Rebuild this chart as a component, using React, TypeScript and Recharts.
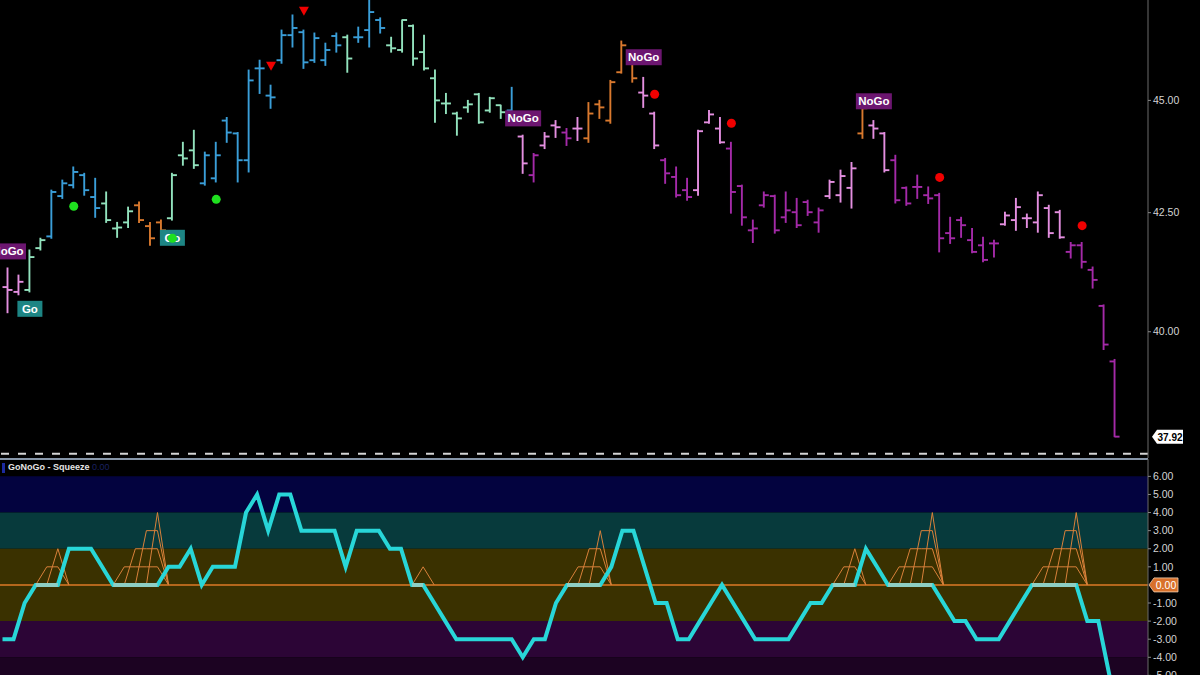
import React from "react";
import { Bar, ComposedChart, Line, ReferenceArea, ReferenceLine, XAxis, YAxis } from "recharts";

// one entry per daily bar, left to right
const OPEN = [
  40.92, 40.82, 40.86, 41.74, 41.99, 42.86, 43.1, 43.32, 42.84, 42.7,
  42.16, 42.29, 42.66, 42.21, 42.29, 42.38, 43.76, 43.87, 43.14, 43.25,
  44.54, 44.25, 43.65, 45.74, 45.11, 45.93, 46.52, 46.59, 45.93, 45.93,
  46.5, 46.47, 46.47, 46.64, 46.88, 46.28, 46.17, 46.74, 46.12, 45.51,
  44.93, 44.7, 44.84, 45.14, 44.77, 44.89, 44.77, 44.18, 43.32, 43.98,
  44.43, 44.27, 44.36, 44.14, 44.91, 44.54, 45.65, 45.88, 45.18, 44.7,
  43.65, 43.28, 42.99, 42.99, 44.5, 44.36, 43.91, 43.08, 42.12, 42.66,
  42.86, 42.4, 42.51, 42.73, 42.29, 42.86, 42.88, 43.04, 44.25, 44.43,
  44.25, 43.65, 43.04, 43.06, 42.88, 42.88, 42.06, 42.34, 41.91, 41.8,
  41.84, 42.25, 42.34, 42.38, 42.29, 42.6, 42.51, 41.66, 41.8, 41.28,
  40.53, 39.4,
];
const HIGH = [
  41.32, 41.17, 41.7, 41.95, 42.99, 43.21, 43.5, 43.36, 43.25, 42.95,
  42.29, 42.62, 42.73, 42.29, 42.34, 43.36, 44.05, 44.32, 43.83, 44.05,
  44.61, 44.27, 45.7, 45.93, 45.35, 46.64, 47.0, 46.64, 46.57, 46.33,
  46.57, 46.52, 46.71, 47.36, 46.93, 46.47, 46.88, 46.76, 46.52, 45.7,
  45.16, 44.73, 45.0, 45.16, 45.07, 44.89, 45.3, 44.21, 43.8, 44.27,
  44.54, 44.36, 44.61, 44.95, 45.0, 45.46, 46.38, 45.97, 45.53, 44.73,
  43.69, 43.5, 43.25, 44.32, 44.77, 44.61, 44.05, 43.1, 42.34, 42.95,
  42.88, 42.95, 42.81, 42.77, 42.6, 43.21, 43.43, 43.6, 44.89, 44.54,
  44.27, 43.76, 43.06, 43.32, 43.06, 42.92, 42.4, 42.4, 42.16, 41.97,
  41.91, 42.51, 42.81, 42.47, 42.95, 42.66, 42.55, 41.86, 41.86, 41.34,
  40.55, 39.44,
];
const LOW = [
  40.39, 40.76, 40.82, 41.7, 41.95, 42.81, 43.04, 42.88, 42.4, 42.29,
  41.97, 42.18, 42.29, 41.8, 41.91, 42.34, 43.54, 43.47, 43.1, 43.17,
  44.05, 43.17, 43.39, 45.16, 44.82, 45.86, 46.24, 45.74, 45.88, 45.81,
  46.12, 45.65, 46.35, 46.24, 46.57, 46.12, 46.12, 45.81, 45.7, 44.5,
  44.7, 44.21, 44.73, 44.48, 44.73, 44.59, 44.43, 43.36, 43.17, 43.91,
  44.16, 43.98, 44.09, 44.05, 44.59, 44.48, 45.63, 45.42, 44.84, 43.91,
  43.14, 42.84, 42.77, 42.88, 44.48, 44.03, 42.49, 42.23, 41.86, 42.62,
  42.06, 42.29, 42.18, 42.44, 42.08, 42.81, 42.73, 42.6, 44.14, 44.14,
  43.39, 42.71, 42.66, 42.81, 42.7, 41.66, 41.84, 41.97, 41.64, 41.45,
  41.55, 42.23, 42.12, 42.18, 42.08, 41.97, 41.95, 41.53, 41.32, 40.9,
  39.64, 37.92,
];
const CLOSE = [
  40.86, 41.03, 41.55, 41.91, 42.95, 43.14, 43.39, 42.99, 42.6, 42.34,
  42.18, 42.53, 42.34, 41.95, 42.12, 43.32, 43.69, 43.54, 43.76, 43.76,
  44.27, 43.65, 45.46, 45.74, 45.07, 46.52, 46.69, 45.88, 46.45, 46.17,
  46.28, 45.97, 46.47, 47.07, 46.69, 46.21, 46.88, 45.97, 45.74, 45.0,
  44.93, 44.59, 44.91, 44.5, 45.05, 44.73, 44.48, 43.58, 43.76, 44.18,
  44.39, 44.14, 44.36, 44.7, 44.84, 45.42, 46.28, 45.51, 45.11, 43.98,
  43.36, 42.88, 42.84, 44.3, 44.68, 44.05, 42.95, 42.4, 42.16, 42.88,
  42.12, 42.55, 42.23, 42.51, 42.55, 43.17, 43.3, 43.47, 44.82, 44.36,
  43.43, 42.77, 42.7, 43.06, 42.81, 41.95, 41.95, 42.23, 41.66, 41.49,
  41.84, 42.44, 42.62, 42.38, 42.88, 42.06, 41.97, 41.8, 41.45, 41.07,
  39.74, 37.92,
];
// G strong go, g weak go, a amber, n weak nogo, N strong nogo
const TREND = [
  "n", "n", "g", "g", "G", "G", "G", "G", "G", "g",
  "g", "g", "a", "a", "a", "g", "g", "g", "G", "G",
  "G", "G", "G", "G", "G", "G", "G", "G", "G", "G",
  "G", "g", "G", "G", "G", "g", "g", "g", "g", "g",
  "g", "g", "g", "g", "g", "g", "G", "n", "N", "n",
  "n", "N", "n", "a", "a", "a", "a", "a", "n", "n",
  "N", "N", "N", "n", "n", "n", "N", "N", "N", "N",
  "N", "N", "N", "N", "N", "n", "n", "n", "a", "n",
  "n", "N", "N", "N", "N", "N", "N", "N", "N", "N",
  "N", "n", "n", "n", "n", "n", "n", "N", "N", "N",
  "N", "N",
];
const OSC = [
  -3, -3, -1, 0, 0, 0, 2, 2, 2, 1,
  0, 0, 0, 0, 0, 1, 1, 2, 0, 1,
  1, 1, 4, 5, 3, 5, 5, 3, 3, 3,
  3, 1, 3, 3, 3, 2, 2, 0, 0, -1,
  -2, -3, -3, -3, -3, -3, -3, -4, -3, -3,
  -1, 0, 0, 0, 0, 1, 3, 3, 1, -1,
  -1, -3, -3, -2, -1, 0, -1, -2, -3, -3,
  -3, -3, -2, -1, -1, 0, 0, 0, 2, 1,
  0, 0, 0, 0, 0, -1, -2, -2, -3, -3,
  -3, -2, -1, 0, 0, 0, 0, 0, -2, -2,
  -5, -6,
];
const SQUEEZE = [
  0, 0, 0, 0, 1, 2, 0, 0, 0, 0,
  0, 1, 2, 3, 4, 0, 0, 0, 0, 0,
  0, 0, 0, 0, 0, 0, 0, 0, 0, 0,
  0, 0, 0, 0, 0, 0, 0, 0, 1, 0,
  0, 0, 0, 0, 0, 0, 0, 0, 0, 0,
  0, 0, 1, 2, 3, 0, 0, 0, 0, 0,
  0, 0, 0, 0, 0, 0, 0, 0, 0, 0,
  0, 0, 0, 0, 0, 0, 1, 2, 0, 0,
  0, 1, 2, 3, 4, 0, 0, 0, 0, 0,
  0, 0, 0, 0, 1, 2, 3, 4, 0, 0,
  0, 0,
];

const GO_DOTS = [
  { bar: 6, price: 42.64 },
  { bar: 15, price: 41.95 },
  { bar: 19, price: 42.79 },
];
const NOGO_DOTS = [
  { bar: 59, price: 45.14 },
  { bar: 66, price: 44.48 },
  { bar: 85, price: 43.27 },
  { bar: 98, price: 42.22 },
];
const NOGO_TRIANGLES = [
  { bar: 24, price: 45.79 },
  { bar: 27, price: 47.09 },
];
const SIGNAL_LABELS = [
  { bar: 0, price: 41.67, text: "NoGo" },
  { bar: 2, price: 40.47, text: "Go" },
  { bar: 15, price: 41.96, text: "Go" },
  { bar: 47, price: 44.59, text: "NoGo" },
  { bar: 58, price: 46.0, text: "NoGo" },
  { bar: 79, price: 44.98, text: "NoGo" },
];

const LAST_PRICE = 37.92;
const DASH_LEVEL = 37.59;
const PRICE_TICKS = [40, 42.5, 45];
// 0 is shown by the orange tag instead of a plain tick label
const OSC_TICKS = [-5, -4, -3, -2, -1, 1, 2, 3, 4, 5, 6];
const OSC_DOMAIN = [-5.2, 6.96];
const OSC_BANDS = [
  { from: 4, to: 6, color: "#03033f" },
  { from: 2, to: 4, color: "#073a3c" },
  { from: -2, to: 2, color: "#3a3100" },
  { from: -4, to: -2, color: "#2c0536" },
  { from: -6, to: -4, color: "#1c0322" },
];

const TREND_COLORS: Record<string, string> = {
  G: "#3a9ed8",
  g: "#92e2bd",
  a: "#d9792e",
  n: "#e48fe0",
  N: "#a42aa8",
};

const FONT = "'Liberation Sans', Arial, sans-serif";
const AXIS_TICK = { fill: "#d4d4d4", fontSize: 10.5, fontFamily: FONT };

const priceRows = OPEN.map((o, i) => {
  const go = GO_DOTS.find((d) => d.bar === i);
  const red = NOGO_DOTS.find((d) => d.bar === i);
  const tri = NOGO_TRIANGLES.find((d) => d.bar === i);
  const lab = SIGNAL_LABELS.find((d) => d.bar === i);
  return {
    i,
    range: [LOW[i], HIGH[i]],
    open: o,
    high: HIGH[i],
    low: LOW[i],
    close: CLOSE[i],
    trend: TREND[i],
    goDot: go ? go.price : null,
    redDot: red ? red.price : null,
    tri: tri ? tri.price : null,
    label: lab ? lab.price : null,
    labelText: lab ? lab.text : "",
  };
});

// squeeze grid: one trapezoid per level
const levelValue = (i: number, L: number) => {
  if (SQUEEZE[i] >= L) return L;
  if ((SQUEEZE[i - 1] ?? 0) >= L || (SQUEEZE[i + 1] ?? 0) >= L) return 0;
  return null;
};
const oscRows = OSC.map((v, i) => ({
  i,
  osc: v,
  flat: v === 0 && (OSC[i - 1] === 0 || OSC[i + 1] === 0) ? 0 : null,
  sq1: levelValue(i, 1),
  sq2: levelValue(i, 2),
  sq3: levelValue(i, 3),
  sq4: levelValue(i, 4),
}));

function OhlcShape(props: any) {
  const { x, y, width, height, payload } = props;
  if (x == null || y == null || height == null) return <g />;
  const top = Math.min(y, y + height);
  const bot = Math.max(y, y + height);
  const cx = x + width / 2;
  const lh = Math.log(payload.high);
  const span = lh - Math.log(payload.low) || 1;
  const yOf = (v: number) => top + ((lh - Math.log(v)) / span) * (bot - top);
  const yo = yOf(payload.open);
  const yc = yOf(payload.close);
  return (
    <g stroke={TREND_COLORS[payload.trend]} strokeWidth={1.9}>
      <line x1={cx} x2={cx} y1={top - 0.5} y2={bot + 0.5} />
      <line x1={cx - 5} x2={cx} y1={yo} y2={yo} />
      <line x1={cx} x2={cx + 5} y1={yc} y2={yc} />
    </g>
  );
}

const empty = (p: any) => <g key={"e" + p.index} />;

const greenDot = (p: any) =>
  p.value == null || p.cy == null ? empty(p) : (
    <circle key={"g" + p.index} cx={p.cx} cy={p.cy} r={4.5} fill="#1fe01f" />
  );
const redDot = (p: any) =>
  p.value == null || p.cy == null ? empty(p) : (
    <circle key={"r" + p.index} cx={p.cx} cy={p.cy} r={4.5} fill="#f00000" />
  );
const redTriangle = (p: any) =>
  p.value == null || p.cy == null ? empty(p) : (
    <polygon
      key={"t" + p.index}
      points={`${p.cx - 5},${p.cy - 4.5} ${p.cx + 5},${p.cy - 4.5} ${p.cx},${p.cy + 4.5}`}
      fill="#f00000"
    />
  );
const signalBox = (p: any) => {
  if (p.value == null || p.cy == null) return empty(p);
  const text = p.payload.labelText;
  const isGo = text === "Go";
  const w = isGo ? 25 : 36;
  return (
    <g key={"l" + p.index}>
      <rect x={p.cx - w / 2} y={p.cy - 8} width={w} height={16} fill={isGo ? "#1d8584" : "#6c1670"} />
      <text
        x={p.cx}
        y={p.cy + 4}
        textAnchor="middle"
        fill="#ffffff"
        fontSize={11.5}
        fontWeight="bold"
        fontFamily={FONT}
      >
        {text}
      </text>
    </g>
  );
};

function PriceTag(props: any) {
  const vb = props.viewBox || {};
  const x0 = vb.x + vb.width + 4;
  const y = vb.y;
  return (
    <g>
      <polygon
        points={`${x0},${y} ${x0 + 5},${y - 7} ${x0 + 31},${y - 7} ${x0 + 31},${y + 7} ${x0 + 5},${y + 7}`}
        fill="#ffffff"
      />
      <text x={x0 + 18} y={y + 4} textAnchor="middle" fontSize={10} fontWeight="bold" fill="#000" fontFamily={FONT}>
        {LAST_PRICE.toFixed(2)}
      </text>
    </g>
  );
}

function ZeroTag(props: any) {
  const vb = props.viewBox || {};
  const x0 = vb.x + vb.width + 1;
  const y = vb.y;
  return (
    <g>
      <polygon
        points={`${x0},${y} ${x0 + 5},${y - 7} ${x0 + 29},${y - 7} ${x0 + 29},${y + 7} ${x0 + 5},${y + 7}`}
        fill="#d8702a"
        stroke="#f4d2b4"
        strokeWidth={0.8}
      />
      <text x={x0 + 17} y={y + 4} textAnchor="middle" fontSize={10.5} fill="#fff" fontFamily={FONT}>
        0.00
      </text>
    </g>
  );
}

const X_PAD = { left: 2.5, right: 27.5 };
const NO_MARGIN = { top: 0, right: 0, bottom: 0, left: 0 };

export default function App() {
  return (
    <div
      style={{
        position: "fixed",
        left: 0,
        top: 0,
        width: 1200,
        height: 675,
        background: "#000",
        overflow: "hidden",
        fontFamily: FONT,
      }}
    >
      <div style={{ position: "absolute", left: 0, top: 0 }}>
        <ComposedChart width={1200} height={458} data={priceRows} margin={NO_MARGIN}>
          <XAxis dataKey="i" hide padding={X_PAD} />
          <YAxis
            orientation="right"
            width={52}
            scale="log"
            domain={[37.51, 47.36]}
            allowDataOverflow
            ticks={PRICE_TICKS}
            interval={0}
            tickFormatter={(v: number) => v.toFixed(2)}
            tick={AXIS_TICK}
            tickSize={3}
            tickMargin={2}
            axisLine={{ stroke: "#6a6a6a" }}
            tickLine={{ stroke: "#888" }}
          />
          <ReferenceLine y={DASH_LEVEL} stroke="#d4d4d4" strokeWidth={2} strokeDasharray="8 9" />
          <ReferenceLine y={LAST_PRICE} stroke="none" label={<PriceTag />} />
          <Line dataKey="label" stroke="none" dot={signalBox} activeDot={false} isAnimationActive={false} />
          <Bar dataKey="range" barSize={8} shape={<OhlcShape />} isAnimationActive={false} />
          <Line dataKey="goDot" stroke="none" dot={greenDot} activeDot={false} isAnimationActive={false} />
          <Line dataKey="redDot" stroke="none" dot={redDot} activeDot={false} isAnimationActive={false} />
          <Line dataKey="tri" stroke="none" dot={redTriangle} activeDot={false} isAnimationActive={false} />
        </ComposedChart>
      </div>

      <div style={{ position: "absolute", left: 0, top: 458, width: 1148, height: 1.5, background: "#8695a8" }} />

      {/* oscillator zones, full plot width (no category padding) */}
      <div style={{ position: "absolute", left: 0, top: 459 }}>
        <ComposedChart width={1200} height={220} data={oscRows} margin={NO_MARGIN}>
          <XAxis dataKey="i" hide />
          <YAxis orientation="right" width={52} domain={OSC_DOMAIN} allowDataOverflow tick={false} axisLine={false} tickLine={false} />
          {OSC_BANDS.map((b) => (
            <ReferenceArea
              key={b.from}
              y1={b.from}
              y2={b.to}
              fill={b.color}
              fillOpacity={1}
              stroke="none"
              ifOverflow="hidden"
            />
          ))}
        </ComposedChart>
      </div>

      <div style={{ position: "absolute", left: 0, top: 459 }}>
        <ComposedChart width={1200} height={220} data={oscRows} margin={NO_MARGIN}>
          <XAxis dataKey="i" hide padding={X_PAD} />
          <YAxis
            orientation="right"
            width={52}
            domain={OSC_DOMAIN}
            allowDataOverflow
            ticks={OSC_TICKS}
            interval={0}
            tickFormatter={(v: number) => v.toFixed(2)}
            tick={AXIS_TICK}
            tickSize={3}
            tickMargin={2}
            axisLine={{ stroke: "#6a6a6a" }}
            tickLine={{ stroke: "#888" }}
          />
          <ReferenceLine y={0} stroke="#de7a26" strokeWidth={1.5} label={<ZeroTag />} />
          {["sq1", "sq2", "sq3", "sq4"].map((k) => (
            <Line
              key={k}
              dataKey={k}
              type="linear"
              stroke="#d9813a"
              strokeWidth={1}
              dot={false}
              activeDot={false}
              connectNulls={false}
              isAnimationActive={false}
            />
          ))}
          <Line
            dataKey="osc"
            type="linear"
            stroke="#28d6d8"
            strokeWidth={4}
            strokeLinejoin="miter"
            dot={false}
            activeDot={false}
            isAnimationActive={false}
          />
          <Line
            dataKey="flat"
            type="linear"
            stroke="#8ecfc4"
            strokeWidth={4}
            dot={false}
            activeDot={false}
            connectNulls={false}
            isAnimationActive={false}
          />
        </ComposedChart>
      </div>

      <div style={{ position: "absolute", left: 2, top: 463, width: 3, height: 10, background: "#1c2aa0" }} />
      <div
        style={{
          position: "absolute",
          left: 8,
          top: 462,
          fontSize: 9,
          fontWeight: "bold",
          color: "#e4e4e4",
          whiteSpace: "nowrap",
        }}
      >
        GoNoGo - Squeeze <span style={{ color: "#1a2060", fontWeight: "normal" }}>0.00</span>
      </div>
    </div>
  );
}
